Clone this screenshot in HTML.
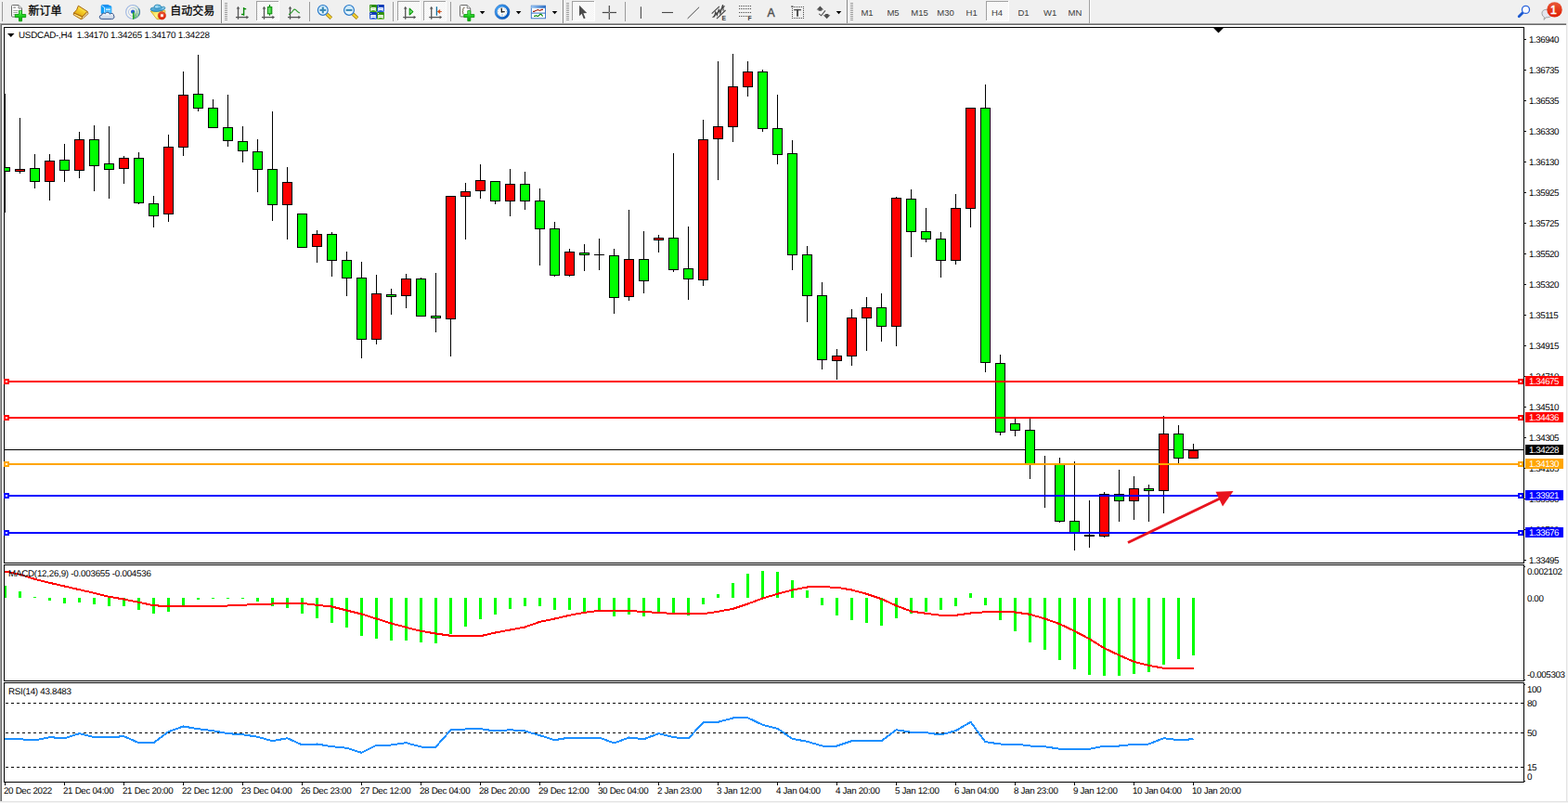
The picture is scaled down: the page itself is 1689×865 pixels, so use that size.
<!DOCTYPE html><html><head><meta charset="utf-8"><title>USDCAD H4</title><style>

html,body{margin:0;padding:0;background:#fff;}
body{width:1689px;height:865px;position:relative;overflow:hidden;font-family:"Liberation Sans",sans-serif;}
.tb{position:absolute;left:0;top:0;width:1689px;height:25px;background:#f0f0f0;}
.mdi{position:absolute;left:0;top:25px;width:1687px;height:838px;background:#fff;border-left:1px solid #a0a0a0;border-top:1px solid #a0a0a0;box-sizing:border-box;}
.mdi2{position:absolute;left:1px;top:26px;width:1686px;height:837px;border-left:1px solid #696969;border-top:1px solid #696969;box-sizing:border-box;}
.edge-r{position:absolute;left:1687px;top:25px;width:2px;height:840px;background:linear-gradient(90deg,#e3e3e3 50%,#f4f4f4 50%);}
.edge-b{position:absolute;left:0;top:863px;width:1689px;height:2px;background:linear-gradient(180deg,#e3e3e3 50%,#f4f4f4 50%);}
.ch{position:absolute;left:0;top:0;}
.t{position:absolute;font-size:9.8px;line-height:11px;height:11px;color:#000;white-space:pre;text-rendering:geometricPrecision;}
.ti{letter-spacing:-0.22px;}.tm{letter-spacing:-0.245px;}.tr{letter-spacing:-0.28px;}.tp{letter-spacing:-0.485px;}.tx{letter-spacing:-0.33px;}.tq{letter-spacing:-0.4px;}
.pl{left:1647px;}
.pb{position:absolute;left:1643px;width:41px;height:11px;font-size:9.8px;line-height:13px;color:#fff;text-indent:4px;white-space:pre;letter-spacing:-0.485px;text-rendering:geometricPrecision;}
.tbsvg{position:absolute;left:0;top:0;}
.tf{position:absolute;top:7.6px;font-size:9.5px;line-height:12px;color:#3c3c3c;width:40px;text-align:center;}

</style></head><body>
<div class="tb"></div><div class="mdi"></div><div class="mdi2"></div><div class="edge-r"></div><div class="edge-b"></div>
<svg class="ch" width="1689" height="865" viewBox="0 0 1689 865" shape-rendering="crispEdges"><defs><clipPath id="cp"><rect x="5" y="30" width="1636" height="576"/></clipPath></defs><g clip-path="url(#cp)"><rect x="5" y="484" width="1636" height="1" fill="#000"/><rect x="5" y="101" width="1" height="128" fill="#000"/><rect x="0" y="180" width="11" height="5" fill="#000"/><rect x="1" y="181" width="9" height="3" fill="#00ff00"/><rect x="21" y="127" width="1" height="60" fill="#000"/><rect x="16" y="182" width="11" height="3" fill="#000"/><rect x="17" y="183" width="9" height="1" fill="#ff0000"/><rect x="37" y="166" width="1" height="37" fill="#000"/><rect x="32" y="181" width="11" height="15" fill="#000"/><rect x="33" y="182" width="9" height="13" fill="#00ff00"/><rect x="53" y="166" width="1" height="50" fill="#000"/><rect x="48" y="173" width="11" height="23" fill="#000"/><rect x="49" y="174" width="9" height="21" fill="#ff0000"/><rect x="69" y="155" width="1" height="41" fill="#000"/><rect x="64" y="172" width="11" height="12" fill="#000"/><rect x="65" y="173" width="9" height="10" fill="#00ff00"/><rect x="85" y="142" width="1" height="50" fill="#000"/><rect x="80" y="150" width="11" height="34" fill="#000"/><rect x="81" y="151" width="9" height="32" fill="#ff0000"/><rect x="101" y="135" width="1" height="71" fill="#000"/><rect x="96" y="150" width="11" height="29" fill="#000"/><rect x="97" y="151" width="9" height="27" fill="#00ff00"/><rect x="117" y="136" width="1" height="78" fill="#000"/><rect x="112" y="176" width="11" height="7" fill="#000"/><rect x="113" y="177" width="9" height="5" fill="#00ff00"/><rect x="133" y="168" width="1" height="30" fill="#000"/><rect x="128" y="170" width="11" height="12" fill="#000"/><rect x="129" y="171" width="9" height="10" fill="#ff0000"/><rect x="149" y="164" width="1" height="56" fill="#000"/><rect x="144" y="170" width="11" height="49" fill="#000"/><rect x="145" y="171" width="9" height="47" fill="#00ff00"/><rect x="165" y="211" width="1" height="34" fill="#000"/><rect x="160" y="219" width="11" height="14" fill="#000"/><rect x="161" y="220" width="9" height="12" fill="#00ff00"/><rect x="181" y="145" width="1" height="94" fill="#000"/><rect x="176" y="158" width="11" height="73" fill="#000"/><rect x="177" y="159" width="9" height="71" fill="#ff0000"/><rect x="197" y="77" width="1" height="91" fill="#000"/><rect x="192" y="102" width="11" height="57" fill="#000"/><rect x="193" y="103" width="9" height="55" fill="#ff0000"/><rect x="213" y="59" width="1" height="61" fill="#000"/><rect x="208" y="101" width="11" height="16" fill="#000"/><rect x="209" y="102" width="9" height="14" fill="#00ff00"/><rect x="229" y="107" width="1" height="31" fill="#000"/><rect x="224" y="116" width="11" height="22" fill="#000"/><rect x="225" y="117" width="9" height="20" fill="#00ff00"/><rect x="245" y="102" width="1" height="56" fill="#000"/><rect x="240" y="137" width="11" height="15" fill="#000"/><rect x="241" y="138" width="9" height="13" fill="#00ff00"/><rect x="261" y="136" width="1" height="39" fill="#000"/><rect x="256" y="152" width="11" height="11" fill="#000"/><rect x="257" y="153" width="9" height="9" fill="#00ff00"/><rect x="277" y="150" width="1" height="57" fill="#000"/><rect x="272" y="163" width="11" height="20" fill="#000"/><rect x="273" y="164" width="9" height="18" fill="#00ff00"/><rect x="293" y="120" width="1" height="118" fill="#000"/><rect x="288" y="182" width="11" height="39" fill="#000"/><rect x="289" y="183" width="9" height="37" fill="#00ff00"/><rect x="309" y="180" width="1" height="78" fill="#000"/><rect x="304" y="196" width="11" height="25" fill="#000"/><rect x="305" y="197" width="9" height="23" fill="#ff0000"/><rect x="325" y="231" width="1" height="36" fill="#000"/><rect x="320" y="230" width="11" height="37" fill="#000"/><rect x="321" y="231" width="9" height="35" fill="#00ff00"/><rect x="341" y="248" width="1" height="35" fill="#000"/><rect x="336" y="252" width="11" height="14" fill="#000"/><rect x="337" y="253" width="9" height="12" fill="#ff0000"/><rect x="357" y="250" width="1" height="48" fill="#000"/><rect x="352" y="252" width="11" height="29" fill="#000"/><rect x="353" y="253" width="9" height="27" fill="#00ff00"/><rect x="373" y="271" width="1" height="48" fill="#000"/><rect x="368" y="280" width="11" height="20" fill="#000"/><rect x="369" y="281" width="9" height="18" fill="#00ff00"/><rect x="389" y="282" width="1" height="104" fill="#000"/><rect x="384" y="299" width="11" height="67" fill="#000"/><rect x="385" y="300" width="9" height="65" fill="#00ff00"/><rect x="405" y="296" width="1" height="75" fill="#000"/><rect x="400" y="316" width="11" height="50" fill="#000"/><rect x="401" y="317" width="9" height="48" fill="#ff0000"/><rect x="421" y="311" width="1" height="28" fill="#000"/><rect x="416" y="317" width="11" height="3" fill="#000"/><rect x="417" y="318" width="9" height="1" fill="#00ff00"/><rect x="437" y="295" width="1" height="37" fill="#000"/><rect x="432" y="300" width="11" height="19" fill="#000"/><rect x="433" y="301" width="9" height="17" fill="#ff0000"/><rect x="453" y="299" width="1" height="41" fill="#000"/><rect x="448" y="300" width="11" height="41" fill="#000"/><rect x="449" y="301" width="9" height="39" fill="#00ff00"/><rect x="469" y="294" width="1" height="64" fill="#000"/><rect x="464" y="340" width="11" height="3" fill="#000"/><rect x="465" y="341" width="9" height="1" fill="#00ff00"/><rect x="485" y="211" width="1" height="173" fill="#000"/><rect x="480" y="211" width="11" height="133" fill="#000"/><rect x="481" y="212" width="9" height="131" fill="#ff0000"/><rect x="501" y="197" width="1" height="61" fill="#000"/><rect x="496" y="206" width="11" height="6" fill="#000"/><rect x="497" y="207" width="9" height="4" fill="#ff0000"/><rect x="517" y="177" width="1" height="37" fill="#000"/><rect x="512" y="194" width="11" height="12" fill="#000"/><rect x="513" y="195" width="9" height="10" fill="#ff0000"/><rect x="533" y="195" width="1" height="25" fill="#000"/><rect x="528" y="195" width="11" height="22" fill="#000"/><rect x="529" y="196" width="9" height="20" fill="#00ff00"/><rect x="549" y="182" width="1" height="51" fill="#000"/><rect x="544" y="198" width="11" height="19" fill="#000"/><rect x="545" y="199" width="9" height="17" fill="#ff0000"/><rect x="565" y="185" width="1" height="41" fill="#000"/><rect x="560" y="198" width="11" height="19" fill="#000"/><rect x="561" y="199" width="9" height="17" fill="#00ff00"/><rect x="581" y="203" width="1" height="83" fill="#000"/><rect x="576" y="216" width="11" height="31" fill="#000"/><rect x="577" y="217" width="9" height="29" fill="#00ff00"/><rect x="597" y="239" width="1" height="59" fill="#000"/><rect x="592" y="246" width="11" height="51" fill="#000"/><rect x="593" y="247" width="9" height="49" fill="#00ff00"/><rect x="613" y="268" width="1" height="30" fill="#000"/><rect x="608" y="271" width="11" height="26" fill="#000"/><rect x="609" y="272" width="9" height="24" fill="#ff0000"/><rect x="629" y="263" width="1" height="29" fill="#000"/><rect x="624" y="272" width="11" height="3" fill="#000"/><rect x="625" y="273" width="9" height="1" fill="#00ff00"/><rect x="645" y="257" width="1" height="34" fill="#000"/><rect x="640" y="274" width="11" height="1" fill="#000"/><rect x="661" y="268" width="1" height="70" fill="#000"/><rect x="656" y="275" width="11" height="46" fill="#000"/><rect x="657" y="276" width="9" height="44" fill="#00ff00"/><rect x="677" y="226" width="1" height="98" fill="#000"/><rect x="672" y="279" width="11" height="41" fill="#000"/><rect x="673" y="280" width="9" height="39" fill="#ff0000"/><rect x="693" y="249" width="1" height="67" fill="#000"/><rect x="688" y="279" width="11" height="24" fill="#000"/><rect x="689" y="280" width="9" height="22" fill="#00ff00"/><rect x="709" y="253" width="1" height="19" fill="#000"/><rect x="704" y="256" width="11" height="3" fill="#000"/><rect x="705" y="257" width="9" height="1" fill="#ff0000"/><rect x="725" y="165" width="1" height="128" fill="#000"/><rect x="720" y="256" width="11" height="35" fill="#000"/><rect x="721" y="257" width="9" height="33" fill="#00ff00"/><rect x="741" y="244" width="1" height="79" fill="#000"/><rect x="736" y="289" width="11" height="12" fill="#000"/><rect x="737" y="290" width="9" height="10" fill="#00ff00"/><rect x="757" y="129" width="1" height="179" fill="#000"/><rect x="752" y="150" width="11" height="152" fill="#000"/><rect x="753" y="151" width="9" height="150" fill="#ff0000"/><rect x="773" y="66" width="1" height="128" fill="#000"/><rect x="768" y="136" width="11" height="14" fill="#000"/><rect x="769" y="137" width="9" height="12" fill="#ff0000"/><rect x="789" y="58" width="1" height="95" fill="#000"/><rect x="784" y="93" width="11" height="44" fill="#000"/><rect x="785" y="94" width="9" height="42" fill="#ff0000"/><rect x="805" y="66" width="1" height="38" fill="#000"/><rect x="800" y="77" width="11" height="17" fill="#000"/><rect x="801" y="78" width="9" height="15" fill="#ff0000"/><rect x="821" y="75" width="1" height="67" fill="#000"/><rect x="816" y="77" width="11" height="62" fill="#000"/><rect x="817" y="78" width="9" height="60" fill="#00ff00"/><rect x="837" y="102" width="1" height="75" fill="#000"/><rect x="832" y="138" width="11" height="29" fill="#000"/><rect x="833" y="139" width="9" height="27" fill="#00ff00"/><rect x="853" y="151" width="1" height="140" fill="#000"/><rect x="848" y="165" width="11" height="110" fill="#000"/><rect x="849" y="166" width="9" height="108" fill="#00ff00"/><rect x="869" y="265" width="1" height="82" fill="#000"/><rect x="864" y="274" width="11" height="45" fill="#000"/><rect x="865" y="275" width="9" height="43" fill="#00ff00"/><rect x="885" y="304" width="1" height="94" fill="#000"/><rect x="880" y="318" width="11" height="70" fill="#000"/><rect x="881" y="319" width="9" height="68" fill="#00ff00"/><rect x="901" y="376" width="1" height="33" fill="#000"/><rect x="896" y="383" width="11" height="6" fill="#000"/><rect x="897" y="384" width="9" height="4" fill="#ff0000"/><rect x="917" y="333" width="1" height="61" fill="#000"/><rect x="912" y="342" width="11" height="42" fill="#000"/><rect x="913" y="343" width="9" height="40" fill="#ff0000"/><rect x="933" y="320" width="1" height="58" fill="#000"/><rect x="928" y="331" width="11" height="12" fill="#000"/><rect x="929" y="332" width="9" height="10" fill="#ff0000"/><rect x="949" y="316" width="1" height="52" fill="#000"/><rect x="944" y="331" width="11" height="21" fill="#000"/><rect x="945" y="332" width="9" height="19" fill="#00ff00"/><rect x="965" y="212" width="1" height="161" fill="#000"/><rect x="960" y="213" width="11" height="139" fill="#000"/><rect x="961" y="214" width="9" height="137" fill="#ff0000"/><rect x="981" y="204" width="1" height="73" fill="#000"/><rect x="976" y="214" width="11" height="36" fill="#000"/><rect x="977" y="215" width="9" height="34" fill="#00ff00"/><rect x="997" y="224" width="1" height="37" fill="#000"/><rect x="992" y="249" width="11" height="9" fill="#000"/><rect x="993" y="250" width="9" height="7" fill="#00ff00"/><rect x="1013" y="250" width="1" height="49" fill="#000"/><rect x="1008" y="257" width="11" height="24" fill="#000"/><rect x="1009" y="258" width="9" height="22" fill="#00ff00"/><rect x="1029" y="209" width="1" height="76" fill="#000"/><rect x="1024" y="224" width="11" height="57" fill="#000"/><rect x="1025" y="225" width="9" height="55" fill="#ff0000"/><rect x="1045" y="116" width="1" height="129" fill="#000"/><rect x="1040" y="116" width="11" height="109" fill="#000"/><rect x="1041" y="117" width="9" height="107" fill="#ff0000"/><rect x="1061" y="91" width="1" height="310" fill="#000"/><rect x="1056" y="116" width="11" height="275" fill="#000"/><rect x="1057" y="117" width="9" height="273" fill="#00ff00"/><rect x="1077" y="382" width="1" height="87" fill="#000"/><rect x="1072" y="391" width="11" height="75" fill="#000"/><rect x="1073" y="392" width="9" height="73" fill="#00ff00"/><rect x="1093" y="451" width="1" height="19" fill="#000"/><rect x="1088" y="456" width="11" height="8" fill="#000"/><rect x="1089" y="457" width="9" height="6" fill="#00ff00"/><rect x="1109" y="451" width="1" height="65" fill="#000"/><rect x="1104" y="463" width="11" height="38" fill="#000"/><rect x="1105" y="464" width="9" height="36" fill="#00ff00"/><rect x="1125" y="491" width="1" height="56" fill="#000"/><rect x="1141" y="493" width="1" height="70" fill="#000"/><rect x="1136" y="500" width="11" height="62" fill="#000"/><rect x="1137" y="501" width="9" height="60" fill="#00ff00"/><rect x="1157" y="497" width="1" height="96" fill="#000"/><rect x="1152" y="561" width="11" height="14" fill="#000"/><rect x="1153" y="562" width="9" height="12" fill="#00ff00"/><rect x="1173" y="539" width="1" height="51" fill="#000"/><rect x="1168" y="576" width="11" height="2" fill="#000"/><rect x="1189" y="530" width="1" height="49" fill="#000"/><rect x="1184" y="532" width="11" height="46" fill="#000"/><rect x="1185" y="533" width="9" height="44" fill="#ff0000"/><rect x="1205" y="506" width="1" height="56" fill="#000"/><rect x="1200" y="532" width="11" height="8" fill="#000"/><rect x="1201" y="533" width="9" height="6" fill="#00ff00"/><rect x="1221" y="513" width="1" height="47" fill="#000"/><rect x="1216" y="526" width="11" height="14" fill="#000"/><rect x="1217" y="527" width="9" height="12" fill="#ff0000"/><rect x="1237" y="522" width="1" height="40" fill="#000"/><rect x="1232" y="526" width="11" height="3" fill="#000"/><rect x="1233" y="527" width="9" height="1" fill="#00ff00"/><rect x="1253" y="448" width="1" height="105" fill="#000"/><rect x="1248" y="467" width="11" height="62" fill="#000"/><rect x="1249" y="468" width="9" height="60" fill="#ff0000"/><rect x="1269" y="458" width="1" height="41" fill="#000"/><rect x="1264" y="467" width="11" height="27" fill="#000"/><rect x="1265" y="468" width="9" height="25" fill="#00ff00"/><rect x="1285" y="478" width="1" height="16" fill="#000"/><rect x="1280" y="485" width="11" height="9" fill="#000"/><rect x="1281" y="486" width="9" height="7" fill="#ff0000"/></g><polygon points="1307,30 1318,30 1312.5,35.5" fill="#000" shape-rendering="auto"/><rect x="4" y="631" width="3" height="13" fill="#00ff00"/><rect x="20" y="637" width="3" height="7" fill="#00ff00"/><rect x="36" y="643" width="3" height="1" fill="#00ff00"/><rect x="52" y="644" width="3" height="3" fill="#00ff00"/><rect x="68" y="644" width="3" height="6" fill="#00ff00"/><rect x="84" y="644" width="3" height="5" fill="#00ff00"/><rect x="100" y="644" width="3" height="7" fill="#00ff00"/><rect x="116" y="644" width="3" height="9" fill="#00ff00"/><rect x="132" y="644" width="3" height="9" fill="#00ff00"/><rect x="148" y="644" width="3" height="13" fill="#00ff00"/><rect x="164" y="644" width="3" height="17" fill="#00ff00"/><rect x="180" y="644" width="3" height="15" fill="#00ff00"/><rect x="196" y="644" width="3" height="9" fill="#00ff00"/><rect x="212" y="644" width="3" height="2" fill="#00ff00"/><rect x="228" y="644" width="3" height="1" fill="#00ff00"/><rect x="244" y="644" width="3" height="1" fill="#00ff00"/><rect x="260" y="644" width="3" height="1" fill="#00ff00"/><rect x="276" y="644" width="3" height="4" fill="#00ff00"/><rect x="292" y="644" width="3" height="9" fill="#00ff00"/><rect x="308" y="644" width="3" height="11" fill="#00ff00"/><rect x="324" y="644" width="3" height="17" fill="#00ff00"/><rect x="340" y="644" width="3" height="22" fill="#00ff00"/><rect x="356" y="644" width="3" height="27" fill="#00ff00"/><rect x="372" y="644" width="3" height="32" fill="#00ff00"/><rect x="388" y="644" width="3" height="41" fill="#00ff00"/><rect x="404" y="644" width="3" height="44" fill="#00ff00"/><rect x="420" y="644" width="3" height="46" fill="#00ff00"/><rect x="436" y="644" width="3" height="46" fill="#00ff00"/><rect x="452" y="644" width="3" height="48" fill="#00ff00"/><rect x="468" y="644" width="3" height="49" fill="#00ff00"/><rect x="484" y="644" width="3" height="39" fill="#00ff00"/><rect x="500" y="644" width="3" height="31" fill="#00ff00"/><rect x="516" y="644" width="3" height="23" fill="#00ff00"/><rect x="532" y="644" width="3" height="18" fill="#00ff00"/><rect x="548" y="644" width="3" height="12" fill="#00ff00"/><rect x="564" y="644" width="3" height="9" fill="#00ff00"/><rect x="580" y="644" width="3" height="9" fill="#00ff00"/><rect x="596" y="644" width="3" height="13" fill="#00ff00"/><rect x="612" y="644" width="3" height="13" fill="#00ff00"/><rect x="628" y="644" width="3" height="15" fill="#00ff00"/><rect x="644" y="644" width="3" height="15" fill="#00ff00"/><rect x="660" y="644" width="3" height="20" fill="#00ff00"/><rect x="676" y="644" width="3" height="18" fill="#00ff00"/><rect x="692" y="644" width="3" height="20" fill="#00ff00"/><rect x="708" y="644" width="3" height="17" fill="#00ff00"/><rect x="724" y="644" width="3" height="17" fill="#00ff00"/><rect x="740" y="644" width="3" height="19" fill="#00ff00"/><rect x="756" y="644" width="3" height="7" fill="#00ff00"/><rect x="772" y="640" width="3" height="4" fill="#00ff00"/><rect x="788" y="628" width="3" height="16" fill="#00ff00"/><rect x="804" y="618" width="3" height="26" fill="#00ff00"/><rect x="820" y="615" width="3" height="29" fill="#00ff00"/><rect x="836" y="616" width="3" height="28" fill="#00ff00"/><rect x="852" y="625" width="3" height="19" fill="#00ff00"/><rect x="868" y="636" width="3" height="8" fill="#00ff00"/><rect x="884" y="644" width="3" height="8" fill="#00ff00"/><rect x="900" y="644" width="3" height="19" fill="#00ff00"/><rect x="916" y="644" width="3" height="24" fill="#00ff00"/><rect x="932" y="644" width="3" height="27" fill="#00ff00"/><rect x="948" y="644" width="3" height="30" fill="#00ff00"/><rect x="964" y="644" width="3" height="22" fill="#00ff00"/><rect x="980" y="644" width="3" height="17" fill="#00ff00"/><rect x="996" y="644" width="3" height="15" fill="#00ff00"/><rect x="1012" y="644" width="3" height="13" fill="#00ff00"/><rect x="1028" y="644" width="3" height="9" fill="#00ff00"/><rect x="1044" y="639" width="3" height="5" fill="#00ff00"/><rect x="1060" y="644" width="3" height="8" fill="#00ff00"/><rect x="1076" y="644" width="3" height="24" fill="#00ff00"/><rect x="1092" y="644" width="3" height="36" fill="#00ff00"/><rect x="1108" y="644" width="3" height="48" fill="#00ff00"/><rect x="1124" y="644" width="3" height="56" fill="#00ff00"/><rect x="1140" y="644" width="3" height="67" fill="#00ff00"/><rect x="1156" y="644" width="3" height="77" fill="#00ff00"/><rect x="1172" y="644" width="3" height="83" fill="#00ff00"/><rect x="1188" y="644" width="3" height="84" fill="#00ff00"/><rect x="1204" y="644" width="3" height="84" fill="#00ff00"/><rect x="1220" y="644" width="3" height="82" fill="#00ff00"/><rect x="1236" y="644" width="3" height="80" fill="#00ff00"/><rect x="1252" y="644" width="3" height="72" fill="#00ff00"/><rect x="1268" y="644" width="3" height="66" fill="#00ff00"/><rect x="1284" y="644" width="3" height="62" fill="#00ff00"/><polyline points="5.5,615.5 21.5,618.8 37.5,623.8 53.5,627.8 69.5,631.5 85.5,635.2 101.5,638.8 117.5,642.8 133.5,645.5 149.5,648.8 165.5,652.2 181.5,653.2 197.5,653.2 213.5,653.2 229.5,652.8 245.5,652.5 261.5,651.8 277.5,650.8 293.5,650.5 309.5,649.8 325.5,649.8 341.5,651.8 357.5,653.5 373.5,657.5 389.5,661.5 405.5,666.5 421.5,671.5 437.5,675.8 453.5,679.8 469.5,682.5 485.5,684.8 501.5,685.2 517.5,685.2 533.5,681.5 549.5,678.5 565.5,675.5 581.5,669.8 597.5,666.5 613.5,662.8 629.5,659.8 645.5,657.8 661.5,657.5 677.5,657.8 693.5,659.2 709.5,659.8 725.5,661.2 741.5,661.5 757.5,661.2 773.5,658.8 789.5,655.8 805.5,650.5 821.5,644.5 837.5,639.8 853.5,635.5 869.5,632.5 885.5,632.2 901.5,632.8 917.5,635.5 933.5,639.8 949.5,645.2 965.5,652.5 981.5,658.5 997.5,660.8 1013.5,662.8 1029.5,662.8 1045.5,660.5 1061.5,659.2 1077.5,658.8 1093.5,659.5 1109.5,661.8 1125.5,666.5 1141.5,672.2 1157.5,679.8 1173.5,688.2 1189.5,698.2 1205.5,705.8 1221.5,712.8 1237.5,716.8 1253.5,719.8 1269.5,720.2 1285.5,720.2" fill="none" stroke="#ff0000" stroke-width="2" shape-rendering="crispEdges" stroke-linejoin="round"/><line x1="6" y1="757.5" x2="1641" y2="757.5" stroke="#000" stroke-width="1" stroke-dasharray="3 3"/><line x1="6" y1="789.5" x2="1641" y2="789.5" stroke="#000" stroke-width="1" stroke-dasharray="3 3"/><line x1="6" y1="826.5" x2="1641" y2="826.5" stroke="#000" stroke-width="1" stroke-dasharray="3 3"/><polyline points="5.5,796.5 21.5,796.2 37.5,797.5 53.5,794.2 69.5,795.2 85.5,790.2 101.5,794.2 117.5,794.2 133.5,793.2 149.5,800.2 165.5,800.2 181.5,788.2 197.5,782.5 213.5,785.2 229.5,787.2 245.5,790.2 261.5,791.2 277.5,793.8 293.5,798.2 309.5,795.2 325.5,802.5 341.5,801.5 357.5,804.2 373.5,805.8 389.5,810.8 405.5,802.8 421.5,802.5 437.5,800.2 453.5,804.5 469.5,804.5 485.5,786.5 501.5,785.5 517.5,785.2 533.5,787.5 549.5,786.2 565.5,787.5 581.5,792.2 597.5,797.2 613.5,794.5 629.5,794.5 645.5,794.5 661.5,800.5 677.5,794.5 693.5,796.2 709.5,790.2 725.5,794.2 741.5,795.5 757.5,778.2 773.5,777.8 789.5,773.5 805.5,773.2 821.5,780.8 837.5,784.8 853.5,795.8 869.5,798.8 885.5,803.5 901.5,803.5 917.5,798.2 933.5,798.2 949.5,798.2 965.5,786.2 981.5,788.8 997.5,789.2 1013.5,791.5 1029.5,787.2 1045.5,777.8 1061.5,799.2 1077.5,801.5 1093.5,801.5 1109.5,803.5 1125.5,804.2 1141.5,806.8 1157.5,806.8 1173.5,806.8 1189.5,803.5 1205.5,803.5 1221.5,801.8 1237.5,801.5 1253.5,795.2 1269.5,797.2 1285.5,796.2" fill="none" stroke="#1e90ff" stroke-width="2" shape-rendering="crispEdges" stroke-linejoin="round"/><rect x="4" y="29" width="1638" height="1" fill="#000"/><rect x="4" y="606" width="1638" height="1" fill="#000"/><rect x="4" y="29" width="1" height="578" fill="#000"/><rect x="1641" y="29" width="1" height="578" fill="#000"/><rect x="4" y="608" width="1638" height="1" fill="#000"/><rect x="4" y="733" width="1638" height="1" fill="#000"/><rect x="4" y="608" width="1" height="126" fill="#000"/><rect x="1641" y="608" width="1" height="126" fill="#000"/><rect x="4" y="735" width="1638" height="1" fill="#000"/><rect x="4" y="842" width="1638" height="1" fill="#000"/><rect x="4" y="735" width="1" height="108" fill="#000"/><rect x="1641" y="735" width="1" height="108" fill="#000"/><rect x="5" y="410" width="1636" height="2" fill="#ff0000"/><rect x="4" y="408" width="6" height="6" fill="#ff0000"/><rect x="6" y="410" width="2" height="2" fill="#fff"/><rect x="1635" y="408" width="6" height="6" fill="#ff0000"/><rect x="1637" y="410" width="2" height="2" fill="#fff"/><rect x="5" y="449" width="1636" height="2" fill="#ff0000"/><rect x="4" y="447" width="6" height="6" fill="#ff0000"/><rect x="6" y="449" width="2" height="2" fill="#fff"/><rect x="1635" y="447" width="6" height="6" fill="#ff0000"/><rect x="1637" y="449" width="2" height="2" fill="#fff"/><rect x="5" y="499" width="1636" height="2" fill="#ffa500"/><rect x="4" y="497" width="6" height="6" fill="#ffa500"/><rect x="6" y="499" width="2" height="2" fill="#fff"/><rect x="1635" y="497" width="6" height="6" fill="#ffa500"/><rect x="1637" y="499" width="2" height="2" fill="#fff"/><rect x="5" y="533" width="1636" height="2" fill="#0000ff"/><rect x="4" y="531" width="6" height="6" fill="#0000ff"/><rect x="6" y="533" width="2" height="2" fill="#fff"/><rect x="1635" y="531" width="6" height="6" fill="#0000ff"/><rect x="1637" y="533" width="2" height="2" fill="#fff"/><rect x="5" y="573" width="1636" height="2" fill="#0000ff"/><rect x="4" y="571" width="6" height="6" fill="#0000ff"/><rect x="6" y="573" width="2" height="2" fill="#fff"/><rect x="1635" y="571" width="6" height="6" fill="#0000ff"/><rect x="1637" y="573" width="2" height="2" fill="#fff"/><g shape-rendering="auto"><line x1="1215" y1="584.5" x2="1314" y2="537" stroke="#e8141e" stroke-width="2.9"/><polygon points="1309.5,529.8 1328.5,529 1317,545.5" fill="#e8141e"/></g><rect x="1642" y="42" width="2" height="1" fill="#000"/><rect x="1642" y="75" width="2" height="1" fill="#000"/><rect x="1642" y="108" width="2" height="1" fill="#000"/><rect x="1642" y="141" width="2" height="1" fill="#000"/><rect x="1642" y="174" width="2" height="1" fill="#000"/><rect x="1642" y="207" width="2" height="1" fill="#000"/><rect x="1642" y="240" width="2" height="1" fill="#000"/><rect x="1642" y="273" width="2" height="1" fill="#000"/><rect x="1642" y="306" width="2" height="1" fill="#000"/><rect x="1642" y="339" width="2" height="1" fill="#000"/><rect x="1642" y="372" width="2" height="1" fill="#000"/><rect x="1642" y="405" width="2" height="1" fill="#000"/><rect x="1642" y="438" width="2" height="1" fill="#000"/><rect x="1642" y="471" width="2" height="1" fill="#000"/><rect x="1642" y="504" width="2" height="1" fill="#000"/><rect x="1642" y="537" width="2" height="1" fill="#000"/><rect x="1642" y="570" width="2" height="1" fill="#000"/><rect x="1642" y="603" width="2" height="1" fill="#000"/><rect x="1642" y="610" width="1" height="1" fill="#000"/><rect x="1642" y="732" width="1" height="1" fill="#000"/><rect x="1642" y="737" width="1" height="1" fill="#000"/><rect x="1642" y="841" width="1" height="1" fill="#000"/><rect x="5" y="843" width="1" height="3" fill="#000"/><rect x="69" y="843" width="1" height="3" fill="#000"/><rect x="133" y="843" width="1" height="3" fill="#000"/><rect x="197" y="843" width="1" height="3" fill="#000"/><rect x="261" y="843" width="1" height="3" fill="#000"/><rect x="325" y="843" width="1" height="3" fill="#000"/><rect x="389" y="843" width="1" height="3" fill="#000"/><rect x="453" y="843" width="1" height="3" fill="#000"/><rect x="517" y="843" width="1" height="3" fill="#000"/><rect x="581" y="843" width="1" height="3" fill="#000"/><rect x="645" y="843" width="1" height="3" fill="#000"/><rect x="709" y="843" width="1" height="3" fill="#000"/><rect x="773" y="843" width="1" height="3" fill="#000"/><rect x="837" y="843" width="1" height="3" fill="#000"/><rect x="901" y="843" width="1" height="3" fill="#000"/><rect x="965" y="843" width="1" height="3" fill="#000"/><rect x="1029" y="843" width="1" height="3" fill="#000"/><rect x="1093" y="843" width="1" height="3" fill="#000"/><rect x="1157" y="843" width="1" height="3" fill="#000"/><rect x="1221" y="843" width="1" height="3" fill="#000"/><rect x="1285" y="843" width="1" height="3" fill="#000"/></svg>
<div class="t ti" style="left:20px;top:33px;">USDCAD-,H4  1.34170 1.34265 1.34170 1.34228</div>
<svg class="ch" width="30" height="50" style="left:0;top:0"><polygon points="8,36 15.5,36 11.75,40" fill="#000"/></svg>
<div class="t tm" style="left:9px;top:613px;">MACD(12,26,9) -0.003655 -0.004536</div>
<div class="t tr" style="left:9px;top:740px;">RSI(14) 43.8483</div>
<div class="t pl tp" style="top:38.0px;">1.36940</div>
<div class="t pl tp" style="top:71.0px;">1.36735</div>
<div class="t pl tp" style="top:104.0px;">1.36535</div>
<div class="t pl tp" style="top:137.0px;">1.36330</div>
<div class="t pl tp" style="top:170.0px;">1.36130</div>
<div class="t pl tp" style="top:203.0px;">1.35925</div>
<div class="t pl tp" style="top:236.0px;">1.35725</div>
<div class="t pl tp" style="top:269.0px;">1.35520</div>
<div class="t pl tp" style="top:302.0px;">1.35320</div>
<div class="t pl tp" style="top:335.0px;">1.35115</div>
<div class="t pl tp" style="top:368.0px;">1.34915</div>
<div class="t pl tp" style="top:401.0px;">1.34710</div>
<div class="t pl tp" style="top:434.0px;">1.34510</div>
<div class="t pl tp" style="top:467.0px;">1.34305</div>
<div class="t pl tp" style="top:500.0px;">1.34105</div>
<div class="t pl tp" style="top:533.0px;">1.33900</div>
<div class="t pl tp" style="top:566.0px;">1.33700</div>
<div class="t pl tp" style="top:599.0px;">1.33495</div>
<div class="t pl tq" style="top:611.0px;left:1645px;">0.002102</div>
<div class="t pl tq" style="top:640.0px;left:1645px;">0.00</div>
<div class="t pl tq" style="top:722.0px;left:1645px;">-0.005303</div>
<div class="t pl tq" style="top:738.0px;left:1645px;">100</div>
<div class="t pl tq" style="top:753.0px;left:1645px;">80</div>
<div class="t pl tq" style="top:785.0px;left:1645px;">50</div>
<div class="t pl tq" style="top:822.0px;left:1645px;">15</div>
<div class="t pl tq" style="top:832.0px;left:1645px;">0</div>
<div class="pb" style="top:405px;background:#ff0000;">1.34675</div>
<div class="pb" style="top:444px;background:#ff0000;">1.34436</div>
<div class="pb" style="top:479px;background:#000;">1.34228</div>
<div class="pb" style="top:494px;background:#ffa500;">1.34130</div>
<div class="pb" style="top:528px;background:#0000ff;">1.33921</div>
<div class="pb" style="top:568px;background:#0000ff;">1.33676</div>
<div class="t tx" style="left:4px;top:847px;">20 Dec 2022</div>
<div class="t tx" style="left:68px;top:847px;">21 Dec 04:00</div>
<div class="t tx" style="left:132px;top:847px;">21 Dec 20:00</div>
<div class="t tx" style="left:196px;top:847px;">22 Dec 12:00</div>
<div class="t tx" style="left:260px;top:847px;">23 Dec 04:00</div>
<div class="t tx" style="left:324px;top:847px;">26 Dec 23:00</div>
<div class="t tx" style="left:388px;top:847px;">27 Dec 12:00</div>
<div class="t tx" style="left:452px;top:847px;">28 Dec 04:00</div>
<div class="t tx" style="left:516px;top:847px;">28 Dec 20:00</div>
<div class="t tx" style="left:580px;top:847px;">29 Dec 12:00</div>
<div class="t tx" style="left:644px;top:847px;">30 Dec 04:00</div>
<div class="t tx" style="left:708px;top:847px;">2 Jan 23:00</div>
<div class="t tx" style="left:772px;top:847px;">3 Jan 12:00</div>
<div class="t tx" style="left:836px;top:847px;">4 Jan 04:00</div>
<div class="t tx" style="left:900px;top:847px;">4 Jan 20:00</div>
<div class="t tx" style="left:964px;top:847px;">5 Jan 12:00</div>
<div class="t tx" style="left:1028px;top:847px;">6 Jan 04:00</div>
<div class="t tx" style="left:1092px;top:847px;">8 Jan 23:00</div>
<div class="t tx" style="left:1156px;top:847px;">9 Jan 12:00</div>
<div class="t tx" style="left:1220px;top:847px;">10 Jan 04:00</div>
<div class="t tx" style="left:1284px;top:847px;">10 Jan 20:00</div>
<svg class="tbsvg" width="1689" height="25" viewBox="0 0 1689 25">
<defs>
<pattern id="chk" width="2" height="2" patternUnits="userSpaceOnUse"><rect width="2" height="2" fill="#f0f0f0"/><rect width="1" height="1" fill="#fff"/><rect x="1" y="1" width="1" height="1" fill="#fff"/></pattern>
<linearGradient id="gp" x1="0" y1="0" x2="0" y2="1"><stop offset="0" stop-color="#7dff7d"/><stop offset="0.5" stop-color="#1fd01f"/><stop offset="1" stop-color="#0aa00a"/></linearGradient>
<linearGradient id="gold" x1="0.9" y1="0.1" x2="0.3" y2="0.95"><stop offset="0" stop-color="#fff6a0"/><stop offset="0.45" stop-color="#f6d22a"/><stop offset="1" stop-color="#dfa010"/></linearGradient>
<linearGradient id="cloud" x1="0" y1="0" x2="0" y2="1"><stop offset="0" stop-color="#ffffff"/><stop offset="1" stop-color="#bccbe0"/></linearGradient>
<linearGradient id="hat" x1="0" y1="0" x2="0" y2="1"><stop offset="0" stop-color="#8ad0f0"/><stop offset="1" stop-color="#3a98cc"/></linearGradient>
<linearGradient id="yel" x1="0" y1="0" x2="0.7" y2="1"><stop offset="0" stop-color="#f4d030"/><stop offset="0.6" stop-color="#fff68a"/><stop offset="1" stop-color="#f0d040"/></linearGradient>
<linearGradient id="redc" x1="0" y1="0" x2="0" y2="1"><stop offset="0" stop-color="#e85838"/><stop offset="1" stop-color="#e01c00"/></linearGradient>
<linearGradient id="lens" x1="0" y1="0" x2="0" y2="1"><stop offset="0" stop-color="#c8e8fa"/><stop offset="1" stop-color="#eefaff"/></linearGradient>
<linearGradient id="clk" x1="0" y1="0" x2="1" y2="1"><stop offset="0" stop-color="#4aa8f8"/><stop offset="1" stop-color="#0050b8"/></linearGradient>
<linearGradient id="gcan" x1="0" y1="0" x2="1" y2="0"><stop offset="0" stop-color="#8cf08c"/><stop offset="1" stop-color="#28c828"/></linearGradient>
<linearGradient id="tgrn" x1="0" y1="0" x2="0" y2="1"><stop offset="0" stop-color="#2a8a0a"/><stop offset="1" stop-color="#48a818"/></linearGradient>
<linearGradient id="tblu" x1="0" y1="0" x2="0" y2="1"><stop offset="0" stop-color="#0a34b0"/><stop offset="1" stop-color="#2a60e0"/></linearGradient>
<linearGradient id="tpl" x1="0" y1="0" x2="1" y2="0"><stop offset="0" stop-color="#9cc8f4"/><stop offset="1" stop-color="#2a6cc4"/></linearGradient>
<radialGradient id="sig" cx="0.5" cy="0.5" r="0.5"><stop offset="0" stop-color="#c8e8c8"/><stop offset="1" stop-color="#78b878"/></radialGradient>
</defs>
<rect x="2" y="2" width="1" height="21" fill="#9a9a9a" shape-rendering="crispEdges"/>
<path d="M13.5,5.5 H20 L23.5,9 V17.1 Q23.5,18.1 22.5,18.1 H13.5 Q12.5,18.1 12.5,17.1 V6.5 Q12.5,5.5 13.5,5.5 Z" fill="#fdfdfd" stroke="#6a6a6a" stroke-width="1"/><path d="M20,5.5 V9 H23.5" fill="#e8e8e8" stroke="#6a6a6a" stroke-width="0.8"/>
<rect x="14.3" y="7.3" width="2.6" height="1.5" fill="#9a9a9a"/><g stroke="#9a9a9a" stroke-width="0.9"><line x1="14.3" y1="11.4" x2="19.5" y2="11.4"/><line x1="14.3" y1="13.5" x2="19" y2="13.5"/><line x1="14.3" y1="15.6" x2="17" y2="15.6"/></g>
<path d="M20.45,11.400000000000002 H23.55 V15.55 H27.7 V18.650000000000002 H23.55 V22.8 H20.45 V18.650000000000002 H16.3 V15.55 H20.45 Z" fill="url(#gp)" stroke="#0c9a0c" stroke-width="0.9" stroke-linejoin="round"/>
<text x="30.6" y="15.8" font-family="&quot;Liberation Sans&quot;, &quot;Noto Sans CJK SC&quot;, sans-serif" font-size="12" fill="#000" stroke="#000" stroke-width="0.26">新订单</text>
<path d="M94,12.3 L95.1,14.6 L89.3,19.9 L87.2,20.7 L88.9,17.9 Z" fill="#f4ecc8" stroke="#a8660a" stroke-width="0.9" stroke-linejoin="round"/><path d="M90.2,18.2 L94.4,14" stroke="#c8a860" stroke-width="0.6" fill="none"/><path d="M79.5,14 L88.9,17.9 L87.2,20.7 L79.1,15.8 Z" fill="#e8b42c" stroke="#a8660a" stroke-width="0.9" stroke-linejoin="round"/><path d="M80.2,15.2 L87.6,19.2" stroke="#fbe9a0" stroke-width="1.1" fill="none"/><path d="M84.4,6.2 L94,12.3 L88.9,17.9 L79.5,14 Q83.2,11.2 84.4,6.2 Z" fill="url(#gold)" stroke="#a8660a" stroke-width="1" stroke-linejoin="round"/>
<path d="M109,6 L110.4,5.3 H116.2 L120,7.1 V14.4 H109 Z" fill="#10a2fa" stroke="#0a84e0" stroke-width="0.5"/><path d="M112.5,8 L120,7.4 V14.4 H112.5 Z" fill="#36b4ff"/><path d="M110.2,5.4 H116.2 L119.9,7.1 L112.6,7.9 Z" fill="#1a8cf0"/><path d="M109.6,6.2 L112.5,8 V13.6" stroke="#e8f6ff" stroke-width="0.8" fill="none"/><rect x="114" y="9.6" width="4.8" height="1.2" fill="#f0faff"/><rect x="113.6" y="11.6" width="5.6" height="2" fill="#7cd0ff" opacity="0.7"/><path d="M109.8,20.6 Q107.1,20.4 107.2,18.2 Q107.3,16.4 109.6,16.2 Q109.6,14.4 111.6,14.2 Q112.8,14.2 113.4,14.8 Q114.2,13 116,13.2 Q117.8,13.4 118.4,15.2 Q119.6,14 121.2,14.6 Q122.8,15.4 122.6,17 Q123.4,18 122.8,19.2 Q122.2,20.6 120.4,20.6 Z" fill="url(#cloud)" stroke="#3c5a8e" stroke-width="1"/>
<circle cx="143.05" cy="12.9" r="7.9" fill="#f6f6f0" opacity="0.85"/><path d="M143.05,12.9 L143.05,20.60 A7.7,7.7 0 0 0 146.43,19.82 Z" fill="#3aa83a" opacity="0.85"/><path d="M143.05,12.9 L146.43,19.82 A7.7,7.7 0 0 0 149.12,17.64 Z" fill="#5cb85c" opacity="0.75"/><path d="M143.05,12.9 L149.12,17.64 A7.7,7.7 0 0 0 150.58,14.50 Z" fill="#7cc47c" opacity="0.65"/><path d="M143.05,12.9 L150.58,14.50 A7.7,7.7 0 0 0 150.52,11.04 Z" fill="#98d098" opacity="0.55"/><path d="M143.05,12.9 L150.52,11.04 A7.7,7.7 0 0 0 148.95,7.95 Z" fill="#b0dab0" opacity="0.45"/><path d="M143.05,12.9 L148.95,7.95 A7.7,7.7 0 0 0 146.18,5.87 Z" fill="#c8e4c8" opacity="0.35"/><path d="M143.05,12.9 L146.18,5.87 A7.7,7.7 0 0 0 142.78,5.20 Z" fill="#d8ecd8" opacity="0.25"/><g fill="none"><circle cx="143.05" cy="12.9" r="7.4" stroke="#4a7ad8" stroke-width="1.1" opacity="0.5"/><circle cx="143.05" cy="12.9" r="4.6" stroke="#5a86d8" stroke-width="1" opacity="0.42"/><path d="M149.46,9.20 A7.4,7.4 0 0 1 149.11,17.14" stroke="#2a6a8a" stroke-width="1.1" opacity="0.7"/><circle cx="143.05" cy="12.700000000000001" r="2.1" fill="#2a5ed0"/><line x1="143.60000000000002" y1="12.9" x2="143.60000000000002" y2="20.8" stroke="#1fa81f" stroke-width="1.3"/></g>
<path d="M162.3,12 L177.8,11.2 L177.8,13.4 L171.8,20.8 L168.9,20.6 Z" fill="url(#yel)" stroke="#cfa010" stroke-width="0.8" stroke-linejoin="round"/><path d="M162.2,10 Q162.2,8.4 164.4,8.2 Q165.4,8 166,8.4 Q165.6,5.1 169.8,5.1 Q173.6,5.1 173.8,7.8 Q175.8,6.8 177.2,7.4 Q178.4,8.2 177.4,9.6 Q175,12 169.6,12.4 Q164.8,12.6 162.8,11.2 Q162.2,10.6 162.2,10 Z" fill="url(#hat)" stroke="#1c7cac" stroke-width="0.8"/><path d="M166,8.4 Q166.6,9.8 169.8,9.6 Q172.8,9.4 173.8,7.8" stroke="#1c7cac" stroke-width="0.6" fill="none"/><path d="M174.8,9.8 L176.6,8.2" stroke="#d8f0ff" stroke-width="0.8"/><ellipse cx="168.6" cy="7.2" rx="1.6" ry="1.2" fill="#b8e4f8" opacity="0.7"/><circle cx="174.4" cy="16.8" r="4.2" fill="url(#redc)" stroke="#c41c00" stroke-width="0.5"/><rect x="173" y="15.3" width="2.9" height="2.9" fill="#fff"/>
<text x="183.2" y="15.8" font-family="&quot;Liberation Sans&quot;, &quot;Noto Sans CJK SC&quot;, sans-serif" font-size="12" fill="#000" stroke="#000" stroke-width="0.26">自动交易</text>
<rect x="238" y="0" width="1" height="25" fill="#858585" shape-rendering="crispEdges"/><rect x="239" y="0" width="1" height="25" fill="#ffffff" shape-rendering="crispEdges"/>
<rect x="242" y="3" width="3" height="1" fill="#9c9c9c" shape-rendering="crispEdges"/>
<rect x="242" y="5" width="3" height="1" fill="#9c9c9c" shape-rendering="crispEdges"/>
<rect x="242" y="7" width="3" height="1" fill="#9c9c9c" shape-rendering="crispEdges"/>
<rect x="242" y="9" width="3" height="1" fill="#9c9c9c" shape-rendering="crispEdges"/>
<rect x="242" y="11" width="3" height="1" fill="#9c9c9c" shape-rendering="crispEdges"/>
<rect x="242" y="13" width="3" height="1" fill="#9c9c9c" shape-rendering="crispEdges"/>
<rect x="242" y="15" width="3" height="1" fill="#9c9c9c" shape-rendering="crispEdges"/>
<rect x="242" y="17" width="3" height="1" fill="#9c9c9c" shape-rendering="crispEdges"/>
<rect x="242" y="19" width="3" height="1" fill="#9c9c9c" shape-rendering="crispEdges"/>
<rect x="242" y="21" width="3" height="1" fill="#9c9c9c" shape-rendering="crispEdges"/>
<g stroke="#555" stroke-width="1.3" fill="#555"><line x1="256.5" y1="8.5" x2="256.5" y2="20.8"/><line x1="254" y1="18.6" x2="266.5" y2="18.6"/><polygon points="256.5,6.8 258.3,9.6 254.7,9.6" stroke="none"/><polygon points="268,18.6 265.4,16.8 265.4,20.4" stroke="none"/></g>
<g stroke="#0a8a0a" stroke-width="1.4" fill="none"><line x1="262.6" y1="8" x2="262.6" y2="16.8"/><line x1="262.6" y1="9.6" x2="265.2" y2="9.6"/><line x1="260" y1="15.5" x2="262.6" y2="15.5"/></g>
<g shape-rendering="crispEdges"><rect x="276" y="1" width="25" height="22" fill="url(#chk)"/><rect x="276" y="1" width="25" height="1" fill="#a0a0a0"/><rect x="276" y="1" width="1" height="22" fill="#a0a0a0"/><rect x="276" y="22" width="25" height="1" fill="#fff"/><rect x="300" y="1" width="1" height="22" fill="#fff"/></g>
<g stroke="#555" stroke-width="1.3" fill="#555"><line x1="284.5" y1="8.5" x2="284.5" y2="20.8"/><line x1="282" y1="18.6" x2="294.5" y2="18.6"/><polygon points="284.5,6.8 286.3,9.6 282.7,9.6" stroke="none"/><polygon points="296,18.6 293.4,16.8 293.4,20.4" stroke="none"/></g>
<line x1="290.5" y1="5" x2="290.5" y2="16.8" stroke="#0a8a0a" stroke-width="1.2"/><rect x="288.4" y="7.6" width="4.4" height="7.2" fill="url(#gcan)" stroke="#0a8a0a" stroke-width="1"/>
<g stroke="#555" stroke-width="1.3" fill="#555"><line x1="312.5" y1="8.5" x2="312.5" y2="20.8"/><line x1="310" y1="18.6" x2="322.5" y2="18.6"/><polygon points="312.5,6.8 314.3,9.6 310.7,9.6" stroke="none"/><polygon points="324,18.6 321.4,16.8 321.4,20.4" stroke="none"/></g>
<path d="M311,15.8 Q314.5,13.6 316,11 Q317.2,9.4 318.6,10.6 Q320.6,13 322.8,14" stroke="#2a9a2a" stroke-width="1.1" fill="none"/>
<rect x="333" y="2" width="1" height="21" fill="#9a9a9a" shape-rendering="crispEdges"/>
<line x1="352.0" y1="15.2" x2="356.8" y2="19.6" stroke="#9a7408" stroke-width="3.6" stroke-linecap="butt"/><line x1="352.2" y1="15.4" x2="356.6" y2="19.4" stroke="#f0d030" stroke-width="2.2"/><circle cx="347.8" cy="10.9" r="5.4" fill="url(#lens)" stroke="#2878c8" stroke-width="1.2"/>
<rect x="344.40000000000003" y="9.9" width="6.8" height="2" fill="#3a88b4"/>
<rect x="346.8" y="7.5" width="2" height="6.8" fill="#3a88b4"/>
<line x1="380.2" y1="15.2" x2="385" y2="19.6" stroke="#9a7408" stroke-width="3.6" stroke-linecap="butt"/><line x1="380.4" y1="15.4" x2="384.8" y2="19.4" stroke="#f0d030" stroke-width="2.2"/><circle cx="376" cy="10.9" r="5.4" fill="url(#lens)" stroke="#2878c8" stroke-width="1.2"/>
<rect x="372.6" y="9.9" width="6.8" height="2" fill="#3a88b4"/>
<rect x="398.1" y="5" width="7.9" height="7.9" fill="url(#tgrn)" rx="0.8"/><path d="M399.3,8 H404.8 V11.8 H403.70000000000005 V11 H400.40000000000003 V11.8 H399.3 Z" fill="#fff"/><rect x="400.3" y="9" width="3.5" height="0.8" fill="#9cd880"/><rect x="399.1" y="6.1" width="1" height="1" fill="#e8f4e0"/>
<rect x="406" y="5" width="7.9" height="7.9" fill="url(#tblu)" rx="0.8"/><path d="M407.2,8 H412.7 V11.8 H411.6 V11 H408.3 V11.8 H407.2 Z" fill="#fff"/><rect x="408.2" y="9" width="3.5" height="0.8" fill="#88a8f0"/><rect x="407" y="6.1" width="1" height="1" fill="#e8f4e0"/>
<rect x="398.1" y="12.9" width="7.9" height="7.9" fill="url(#tblu)" rx="0.8"/><path d="M399.3,15.9 H404.8 V19.7 H403.70000000000005 V18.9 H400.40000000000003 V19.7 H399.3 Z" fill="#fff"/><rect x="400.3" y="16.9" width="3.5" height="0.8" fill="#88a8f0"/><rect x="399.1" y="14.0" width="1" height="1" fill="#e8f4e0"/>
<rect x="406" y="12.9" width="7.9" height="7.9" fill="url(#tgrn)" rx="0.8"/><path d="M407.2,15.9 H412.7 V19.7 H411.6 V18.9 H408.3 V19.7 H407.2 Z" fill="#fff"/><rect x="408.2" y="16.9" width="3.5" height="0.8" fill="#9cd880"/><rect x="407" y="14.0" width="1" height="1" fill="#e8f4e0"/>
<rect x="423" y="2" width="1" height="21" fill="#9a9a9a" shape-rendering="crispEdges"/>
<g shape-rendering="crispEdges"><rect x="428" y="1" width="25" height="22" fill="url(#chk)"/><rect x="428" y="1" width="25" height="1" fill="#a0a0a0"/><rect x="428" y="1" width="1" height="22" fill="#a0a0a0"/><rect x="428" y="22" width="25" height="1" fill="#fff"/><rect x="452" y="1" width="1" height="22" fill="#fff"/></g>
<g stroke="#555" stroke-width="1.3" fill="#555"><line x1="436.7" y1="8.5" x2="436.7" y2="20.8"/><line x1="434.2" y1="18.6" x2="446.7" y2="18.6"/><polygon points="436.7,6.8 438.5,9.6 434.9,9.6" stroke="none"/><polygon points="448.2,18.6 445.59999999999997,16.8 445.59999999999997,20.4" stroke="none"/></g>
<polygon points="441.2,9.2 441.2,16 444.8,12.6" fill="#7ce87c" stroke="#0a9a0a" stroke-width="1.1" stroke-linejoin="round"/>
<g shape-rendering="crispEdges"><rect x="456" y="1" width="25" height="22" fill="url(#chk)"/><rect x="456" y="1" width="25" height="1" fill="#a0a0a0"/><rect x="456" y="1" width="1" height="22" fill="#a0a0a0"/><rect x="456" y="22" width="25" height="1" fill="#fff"/><rect x="480" y="1" width="1" height="22" fill="#fff"/></g>
<g stroke="#555" stroke-width="1.3" fill="#555"><line x1="464.7" y1="8.5" x2="464.7" y2="20.8"/><line x1="462.2" y1="18.6" x2="474.7" y2="18.6"/><polygon points="464.7,6.8 466.5,9.6 462.9,9.6" stroke="none"/><polygon points="476.2,18.6 473.59999999999997,16.8 473.59999999999997,20.4" stroke="none"/></g>
<line x1="470.4" y1="7.2" x2="470.4" y2="16.8" stroke="#1070a0" stroke-width="1.3"/><path d="M471.2,12.5 L473.8,10.4 L473.4,12 L475.8,12.5 L473.4,13 L473.8,14.6 Z" fill="#e04800" stroke="#c03800" stroke-width="0.5"/>
<rect x="485" y="2" width="1" height="21" fill="#9a9a9a" shape-rendering="crispEdges"/>
<path d="M496.5,5.5 H503.2 L506.7,9 V16.9 Q506.7,17.9 505.7,17.9 H496.5 Q495.5,17.9 495.5,16.9 V6.5 Q495.5,5.5 496.5,5.5 Z" fill="#fdfdfd" stroke="#6a6a6a" stroke-width="1"/><path d="M503.2,5.5 V9 H506.7" fill="#e8e8e8" stroke="#6a6a6a" stroke-width="0.8"/>
<path d="M500.6,8.2 Q498.8,8 498.8,9.8 V11.6 Q498.8,12.4 497.8,12.6 Q498.8,12.8 498.8,13.6 V15.4" stroke="#5a4a2a" stroke-width="0.9" fill="none"/>
<path d="M503.8,11.600000000000001 H506.8 V15.600000000000001 H510.8 V18.6 H506.8 V22.6 H503.8 V18.6 H499.8 V15.600000000000001 H503.8 Z" fill="url(#gp)" stroke="#0c9a0c" stroke-width="0.9" stroke-linejoin="round"/>
<polygon points="516.8,12 522.4,12 519.5999999999999,15.2" fill="#000"/>
<circle cx="541" cy="12.8" r="6.7" fill="#fdfdfd" stroke="url(#clk)" stroke-width="2.6"/><circle cx="541" cy="12.8" r="8" fill="none" stroke="#0848a8" stroke-width="0.5" opacity="0.8"/><g fill="#8a8a8a"><circle cx="541.00" cy="8.40" r="0.45"/><circle cx="543.20" cy="8.99" r="0.45"/><circle cx="544.81" cy="10.60" r="0.45"/><circle cx="545.40" cy="12.80" r="0.45"/><circle cx="544.81" cy="15.00" r="0.45"/><circle cx="543.20" cy="16.61" r="0.45"/><circle cx="541.00" cy="17.20" r="0.45"/><circle cx="538.80" cy="16.61" r="0.45"/><circle cx="537.19" cy="15.00" r="0.45"/><circle cx="536.60" cy="12.80" r="0.45"/><circle cx="537.19" cy="10.60" r="0.45"/><circle cx="538.80" cy="8.99" r="0.45"/></g><g stroke="#1a1a1a" stroke-width="1.3" fill="none" stroke-linecap="round"><line x1="540.4" y1="12.9" x2="540.2" y2="9.2"/><line x1="540.4" y1="12.9" x2="543.2" y2="12.7"/></g><rect x="540" y="15.6" width="2" height="0.8" fill="#6aa8f0"/>
<polygon points="555.8,12 561.4,12 558.5999999999999,15.2" fill="#000"/>
<rect x="572.3" y="6.2" width="15.2" height="13.6" fill="#fff" stroke="#2a6cc4" stroke-width="0.9"/><rect x="572.3" y="6.2" width="15.2" height="2.6" fill="url(#tpl)"/><rect x="572.3" y="13.6" width="15.2" height="1" fill="#2a6cc4"/><path d="M574,12.4 H575.6 L577,11.2 H578.2 L579.4,10.4 L580.6,11.2 H582 L583.4,10.4 H585" stroke="#a02008" stroke-width="1.1" fill="none"/><path d="M575,17.4 H576.4 L577.4,16.6 L578.6,17.4 H579.8 L581.8,15.4 H583 L584.6,17.6" stroke="#108a10" stroke-width="1.1" fill="none"/>
<polygon points="594.7,12 600.3000000000001,12 597.5,15.2" fill="#000"/>
<rect x="606" y="0" width="1" height="25" fill="#858585" shape-rendering="crispEdges"/><rect x="607" y="0" width="1" height="25" fill="#ffffff" shape-rendering="crispEdges"/>
<rect x="610" y="3" width="3" height="1" fill="#9c9c9c" shape-rendering="crispEdges"/>
<rect x="610" y="5" width="3" height="1" fill="#9c9c9c" shape-rendering="crispEdges"/>
<rect x="610" y="7" width="3" height="1" fill="#9c9c9c" shape-rendering="crispEdges"/>
<rect x="610" y="9" width="3" height="1" fill="#9c9c9c" shape-rendering="crispEdges"/>
<rect x="610" y="11" width="3" height="1" fill="#9c9c9c" shape-rendering="crispEdges"/>
<rect x="610" y="13" width="3" height="1" fill="#9c9c9c" shape-rendering="crispEdges"/>
<rect x="610" y="15" width="3" height="1" fill="#9c9c9c" shape-rendering="crispEdges"/>
<rect x="610" y="17" width="3" height="1" fill="#9c9c9c" shape-rendering="crispEdges"/>
<rect x="610" y="19" width="3" height="1" fill="#9c9c9c" shape-rendering="crispEdges"/>
<rect x="610" y="21" width="3" height="1" fill="#9c9c9c" shape-rendering="crispEdges"/>
<g shape-rendering="crispEdges"><rect x="616" y="1" width="25" height="22" fill="url(#chk)"/><rect x="616" y="1" width="25" height="1" fill="#a0a0a0"/><rect x="616" y="1" width="1" height="22" fill="#a0a0a0"/><rect x="616" y="22" width="25" height="1" fill="#fff"/><rect x="640" y="1" width="1" height="22" fill="#fff"/></g>
<path d="M624,5.8 L624,17.2 L626.6,14.8 L628.8,20.2 L630.6,19.4 L628.4,14.2 L632.2,14 Z" fill="#4a4a4a"/>
<g stroke="#4a4a4a" stroke-width="1.2"><line x1="656.3" y1="6" x2="656.3" y2="21"/><line x1="648.8" y1="13.5" x2="664" y2="13.5"/></g><rect x="655.9" y="13.1" width="0.9" height="0.9" fill="#ddd"/>
<rect x="673" y="2" width="1" height="21" fill="#9a9a9a" shape-rendering="crispEdges"/>
<g stroke="#4a4a4a" stroke-width="1.1"><line x1="690.4" y1="7.2" x2="690.4" y2="20"/><line x1="713" y1="13.5" x2="725" y2="13.5"/><line x1="740.6" y1="20" x2="753.1" y2="7.7" stroke-width="1"/></g>
<g stroke="#454545" stroke-width="1.15" fill="none"><line x1="766.7" y1="14.7" x2="774.9" y2="6.9"/><line x1="767.6" y1="18.8" x2="780.6" y2="6.4"/><line x1="772" y1="20.2" x2="781.6" y2="11"/><path d="M769.4,18.4 L770.8,13 L772.4,16.4 L774.2,10.6 L775.8,14.4 L778.6,5.2 L779.2,11.6" stroke-width="1.2"/></g>
<text x="777.6" y="21.9" font-family="&quot;Liberation Sans&quot;, sans-serif" font-size="6.8" font-weight="bold" fill="#3a3a3a">E</text>
<rect x="796" y="6" width="1" height="1" fill="#4a4a4a" shape-rendering="crispEdges"/>
<rect x="798" y="6" width="1" height="1" fill="#4a4a4a" shape-rendering="crispEdges"/>
<rect x="800" y="6" width="1" height="1" fill="#4a4a4a" shape-rendering="crispEdges"/>
<rect x="802" y="6" width="1" height="1" fill="#4a4a4a" shape-rendering="crispEdges"/>
<rect x="804" y="6" width="1" height="1" fill="#4a4a4a" shape-rendering="crispEdges"/>
<rect x="806" y="6" width="1" height="1" fill="#4a4a4a" shape-rendering="crispEdges"/>
<rect x="808" y="6" width="1" height="1" fill="#4a4a4a" shape-rendering="crispEdges"/>
<rect x="796" y="9" width="1" height="1" fill="#4a4a4a" shape-rendering="crispEdges"/>
<rect x="798" y="9" width="1" height="1" fill="#4a4a4a" shape-rendering="crispEdges"/>
<rect x="800" y="9" width="1" height="1" fill="#4a4a4a" shape-rendering="crispEdges"/>
<rect x="802" y="9" width="1" height="1" fill="#4a4a4a" shape-rendering="crispEdges"/>
<rect x="804" y="9" width="1" height="1" fill="#4a4a4a" shape-rendering="crispEdges"/>
<rect x="806" y="9" width="1" height="1" fill="#4a4a4a" shape-rendering="crispEdges"/>
<rect x="808" y="9" width="1" height="1" fill="#4a4a4a" shape-rendering="crispEdges"/>
<rect x="796" y="13" width="1" height="1" fill="#4a4a4a" shape-rendering="crispEdges"/>
<rect x="798" y="13" width="1" height="1" fill="#4a4a4a" shape-rendering="crispEdges"/>
<rect x="800" y="13" width="1" height="1" fill="#4a4a4a" shape-rendering="crispEdges"/>
<rect x="802" y="13" width="1" height="1" fill="#4a4a4a" shape-rendering="crispEdges"/>
<rect x="804" y="13" width="1" height="1" fill="#4a4a4a" shape-rendering="crispEdges"/>
<rect x="806" y="13" width="1" height="1" fill="#4a4a4a" shape-rendering="crispEdges"/>
<rect x="808" y="13" width="1" height="1" fill="#4a4a4a" shape-rendering="crispEdges"/>
<rect x="796" y="17" width="1" height="1" fill="#4a4a4a" shape-rendering="crispEdges"/>
<rect x="798" y="17" width="1" height="1" fill="#4a4a4a" shape-rendering="crispEdges"/>
<rect x="800" y="17" width="1" height="1" fill="#4a4a4a" shape-rendering="crispEdges"/>
<rect x="802" y="17" width="1" height="1" fill="#4a4a4a" shape-rendering="crispEdges"/>
<rect x="804" y="17" width="1" height="1" fill="#4a4a4a" shape-rendering="crispEdges"/>
<text x="805.6" y="21.9" font-family="&quot;Liberation Sans&quot;, sans-serif" font-size="6.8" font-weight="bold" fill="#3a3a3a">F</text>
<text x="826.5" y="17.8" font-family="&quot;Liberation Sans&quot;, sans-serif" font-size="12.2" fill="#505050" stroke="#505050" stroke-width="0.42">A</text>
<g fill="#4a4a4a" shape-rendering="crispEdges"><rect x="853" y="7" width="1" height="1"/><rect x="855" y="7" width="1" height="1"/><rect x="857" y="7" width="1" height="1"/><rect x="859" y="7" width="1" height="1"/><rect x="861" y="7" width="1" height="1"/><rect x="863" y="7" width="1" height="1"/><rect x="865" y="7" width="1" height="1"/><rect x="853" y="19" width="1" height="1"/><rect x="855" y="19" width="1" height="1"/><rect x="857" y="19" width="1" height="1"/><rect x="859" y="19" width="1" height="1"/><rect x="861" y="19" width="1" height="1"/><rect x="863" y="19" width="1" height="1"/><rect x="865" y="19" width="1" height="1"/><rect x="853" y="9" width="1" height="1"/><rect x="853" y="11" width="1" height="1"/><rect x="853" y="13" width="1" height="1"/><rect x="853" y="15" width="1" height="1"/><rect x="853" y="17" width="1" height="1"/><rect x="865" y="9" width="1" height="1"/><rect x="865" y="11" width="1" height="1"/><rect x="865" y="13" width="1" height="1"/><rect x="865" y="15" width="1" height="1"/><rect x="865" y="17" width="1" height="1"/></g><rect x="852.2" y="6.4" width="2.2" height="1.3" fill="#4a4a4a"/><rect x="855.2" y="9.9" width="7.7" height="1.4" fill="#4a4a4a"/><rect x="858.1" y="9.9" width="1.9" height="7.8" fill="#4a4a4a"/>
<g fill="#505050"><polygon points="883.4,6.5 887.2,10.4 885.2,10.4 885.2,11.8 881.6,11.8 881.6,10.4 879.6,10.4"/><polygon points="890.6,20.2 894.4,16.3 892.4,16.3 892.4,15 888.8,15 888.8,16.3 886.8,16.3"/></g><path d="M882.2,14.8 L884.6,16.8 L889,11.4" stroke="#505050" stroke-width="1.1" fill="none"/>
<polygon points="900.7,12 906.3000000000001,12 903.5,15.2" fill="#000"/>
<rect x="912" y="0" width="1" height="25" fill="#858585" shape-rendering="crispEdges"/><rect x="913" y="0" width="1" height="25" fill="#ffffff" shape-rendering="crispEdges"/>
<rect x="916" y="3" width="3" height="1" fill="#9c9c9c" shape-rendering="crispEdges"/>
<rect x="916" y="5" width="3" height="1" fill="#9c9c9c" shape-rendering="crispEdges"/>
<rect x="916" y="7" width="3" height="1" fill="#9c9c9c" shape-rendering="crispEdges"/>
<rect x="916" y="9" width="3" height="1" fill="#9c9c9c" shape-rendering="crispEdges"/>
<rect x="916" y="11" width="3" height="1" fill="#9c9c9c" shape-rendering="crispEdges"/>
<rect x="916" y="13" width="3" height="1" fill="#9c9c9c" shape-rendering="crispEdges"/>
<rect x="916" y="15" width="3" height="1" fill="#9c9c9c" shape-rendering="crispEdges"/>
<rect x="916" y="17" width="3" height="1" fill="#9c9c9c" shape-rendering="crispEdges"/>
<rect x="916" y="19" width="3" height="1" fill="#9c9c9c" shape-rendering="crispEdges"/>
<rect x="916" y="21" width="3" height="1" fill="#9c9c9c" shape-rendering="crispEdges"/>
<g shape-rendering="crispEdges"><rect x="1062" y="1" width="25" height="22" fill="url(#chk)"/><rect x="1062" y="1" width="25" height="1" fill="#a0a0a0"/><rect x="1062" y="1" width="1" height="22" fill="#a0a0a0"/><rect x="1062" y="22" width="25" height="1" fill="#fff"/><rect x="1086" y="1" width="1" height="22" fill="#fff"/></g>
<rect x="1173" y="0" width="1" height="25" fill="#a0a0a0" shape-rendering="crispEdges"/><rect x="1174" y="0" width="1" height="25" fill="#fff" shape-rendering="crispEdges"/>
<line x1="1640.2" y1="13.8" x2="1636.2" y2="17.8" stroke="#1a58d0" stroke-width="2.8" stroke-linecap="round"/><circle cx="1643.5" cy="10.4" r="4" fill="#fbfbff" stroke="#2a64dc" stroke-width="1.3"/>
<path d="M1661,14.6 Q1660.6,10.6 1666,10.2 Q1671.6,10.2 1671.8,14.4 Q1671.8,18.6 1666.4,18.8 L1665,18.8 L1663.2,21.4 L1663.4,18.4 Q1661,17.4 1661,14.6 Z" fill="#e4e6ee" stroke="#9a9a9a" stroke-width="0.9"/>
<circle cx="1674.5" cy="10.4" r="8.2" fill="url(#redc)"/>
<text x="1669.9" y="14.9" font-family="&quot;Liberation Sans&quot;, sans-serif" font-size="12.2" fill="#fff" stroke="#fff" stroke-width="0.54">1</text>
</svg>
<div class="tf" style="left:914px;">M1</div>
<div class="tf" style="left:942px;">M5</div>
<div class="tf" style="left:970.5px;">M15</div>
<div class="tf" style="left:998.6px;">M30</div>
<div class="tf" style="left:1026.7px;">H1</div>
<div class="tf" style="left:1054px;">H4</div>
<div class="tf" style="left:1082.5px;">D1</div>
<div class="tf" style="left:1111.2px;">W1</div>
<div class="tf" style="left:1138px;">MN</div>
</body></html>
